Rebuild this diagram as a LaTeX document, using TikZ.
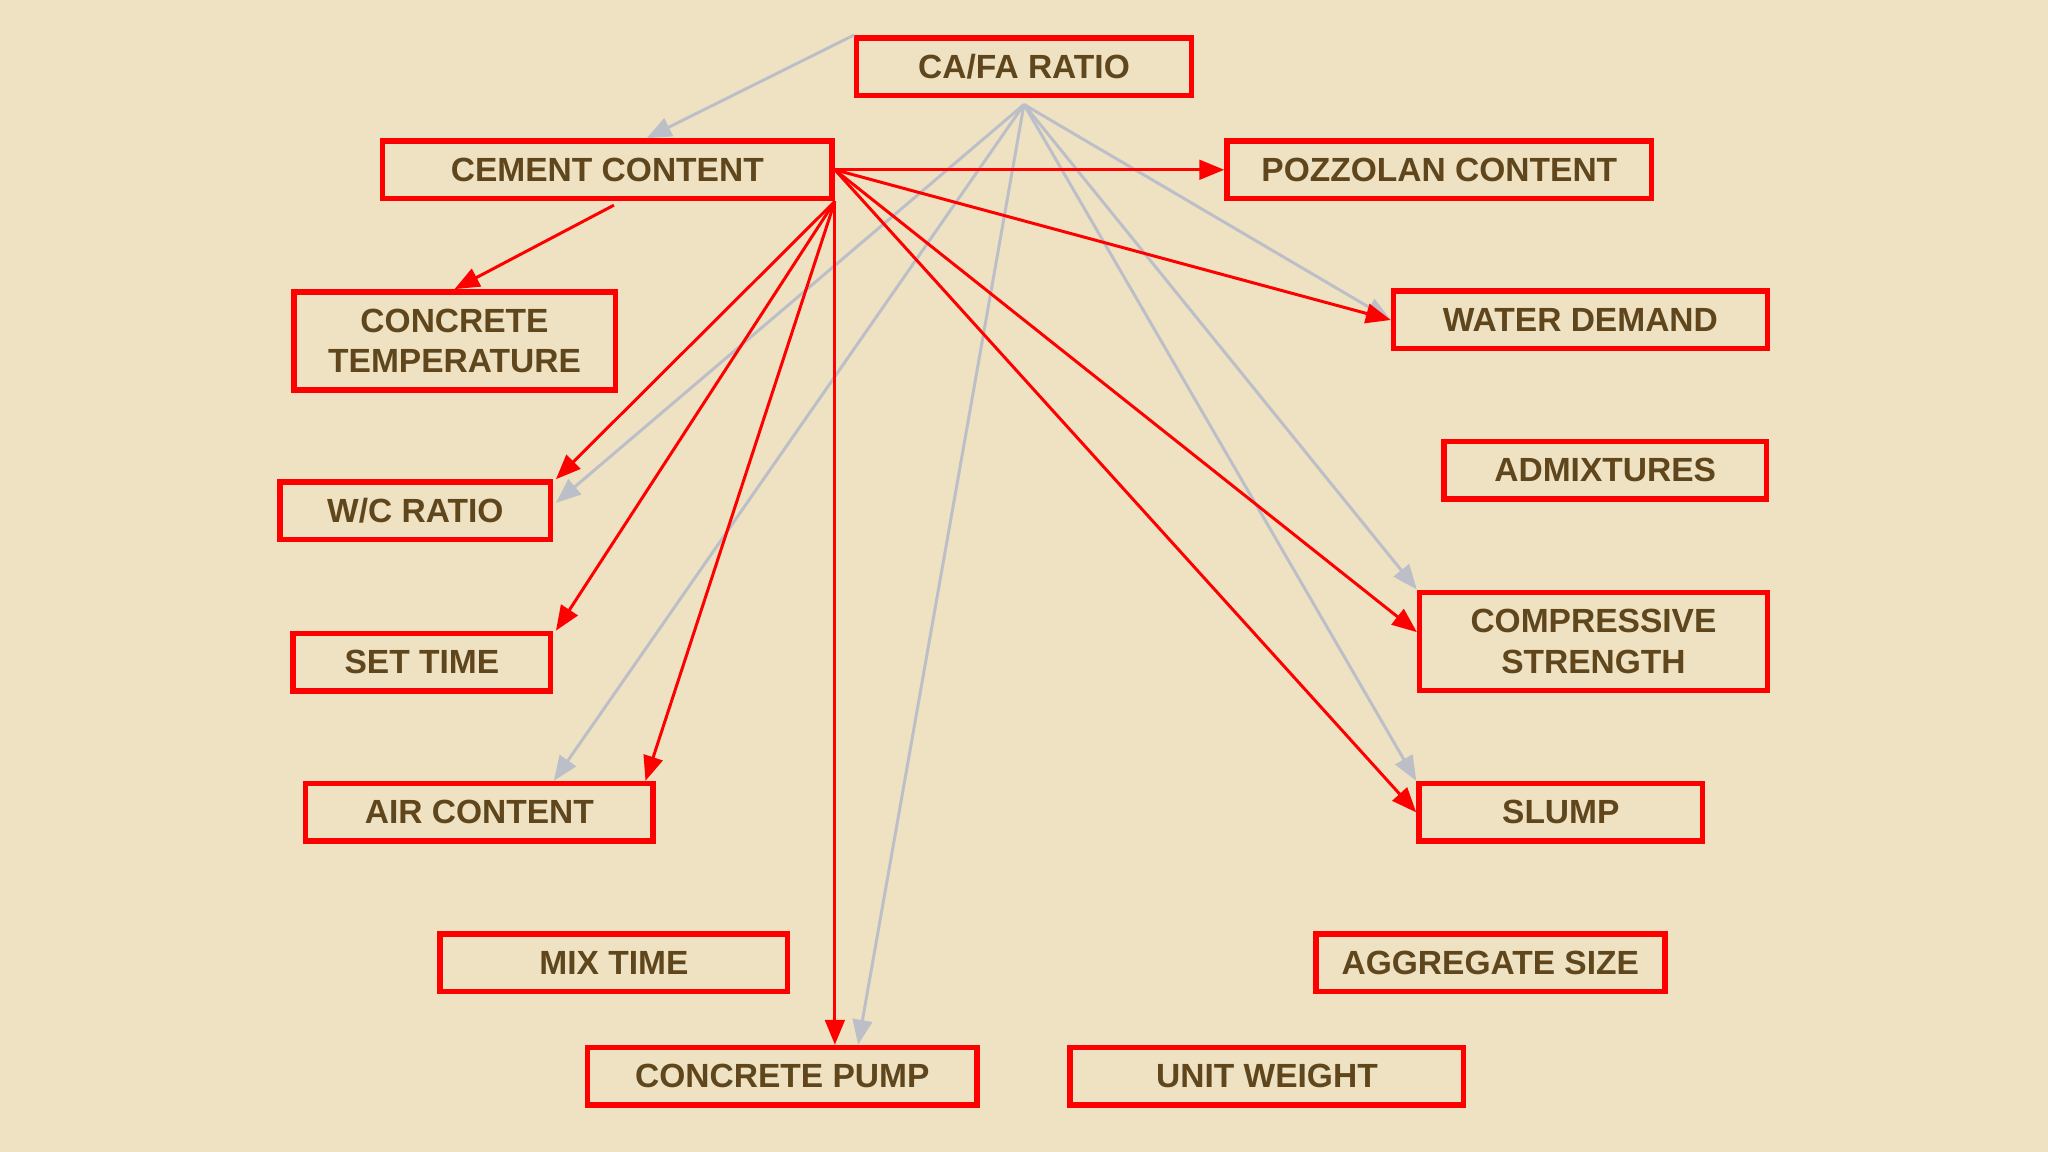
\documentclass[tikz,border=0pt]{standalone}
\usepackage{fontspec}
\setmainfont{Liberation Sans}
\usepackage{xcolor}
\usepackage{tikz}
\usetikzlibrary{calc,arrows.meta}
\definecolor{paper}{HTML}{EEE2C2}
\definecolor{ink}{HTML}{5F461C}
\definecolor{frame}{HTML}{FF0000}
\definecolor{fan}{HTML}{BCBFC8}
\tikzset{
  box/.style={draw=frame, line width=1.2pt, text=ink, font=\fontsize{7.3}{8.8}\selectfont\bfseries, align=center, minimum height=0.44cm, inner sep=0pt},
  tall/.style={minimum height=0.75cm},
  redArrow/.style={draw=frame, line width=0.65pt, -{Triangle[length=1.9mm,width=1.5mm]}},
  grayArrow/.style={draw=fan, line width=0.65pt, -{Triangle[length=1.9mm,width=1.5mm]}}
}

\begin{document}
\begin{tikzpicture}[x=0.01cm,y=0.01cm]
\fill[paper] (0,0) rectangle (1568,882);
\useasboundingbox (0,0) rectangle (1568,882);

\node[box, minimum width=2.56cm] (cafa) at (784,831) {CA/FA RATIO};
\node[box, minimum width=3.44cm] (cement) at (465,752) {CEMENT CONTENT};
\node[box, minimum width=3.25cm] (pozz) at (1102,752) {POZZOLAN CONTENT};
\node[box, tall, minimum width=2.46cm] (temp) at (348,621) {CONCRETE\\TEMPERATURE};
\node[box, minimum width=2.86cm] (water) at (1210,637) {WATER DEMAND};
\node[box, minimum width=2.47cm] (admix) at (1229,522) {ADMIXTURES};
\node[box, minimum width=2.07cm] (wc) at (318,491) {W/C RATIO};
\node[box, tall, minimum width=2.66cm] (comp) at (1220,391) {COMPRESSIVE\\STRENGTH};
\node[box, minimum width=1.97cm] (settime) at (323,375) {SET TIME};
\node[box, minimum width=2.66cm] (air) at (367,260) {AIR CONTENT};
\node[box, minimum width=2.17cm] (slump) at (1195,260) {SLUMP};
\node[box, minimum width=2.66cm] (mix) at (470,145) {MIX TIME};
\node[box, minimum width=2.67cm] (agg) at (1141,145) {AGGREGATE SIZE};
\node[box, minimum width=2.98cm] (pump) at (599,58) {CONCRETE PUMP};
\node[box, minimum width=3.01cm] (unitw) at (970,58) {UNIT WEIGHT};

\coordinate (fan) at (784,802);

\draw[grayArrow] (cafa.north west) -- ($(cement.north)+(30,0)$);
\draw[grayArrow] (fan) -- ($(wc.east)+(2,6)$);
\draw[grayArrow] (fan) -- ($(air.north)+(57,0)$);
\draw[grayArrow] (fan) -- ($(pump.north)+(58,0)$);
\draw[grayArrow] (fan) -- (water.west);
\draw[grayArrow] (fan) -- (comp.north west);
\draw[grayArrow] (fan) -- (slump.north west);

\draw[redArrow] ($(cement.south)+(5,-3)$) -- (temp.north);
\draw[redArrow] (cement.east) -- (pozz.west);
\draw[redArrow] (cement.east) -- (water.west);
\draw[redArrow] (cement.east) -- ($(comp.west)+(0,7)$);
\draw[redArrow] (cement.east) -- (slump.west);
\draw[redArrow] (cement.south east) -- (cement.south east |- pump.north);
\draw[redArrow] (cement.south east) -- ($(wc.north east)+(2,0)$);
\draw[redArrow] (cement.south east) -- ($(settime.north east)+(2,0)$);
\draw[redArrow] (cement.south east) -- ($(air.north east)+(-8,0)$);
\end{tikzpicture}
\end{document}
